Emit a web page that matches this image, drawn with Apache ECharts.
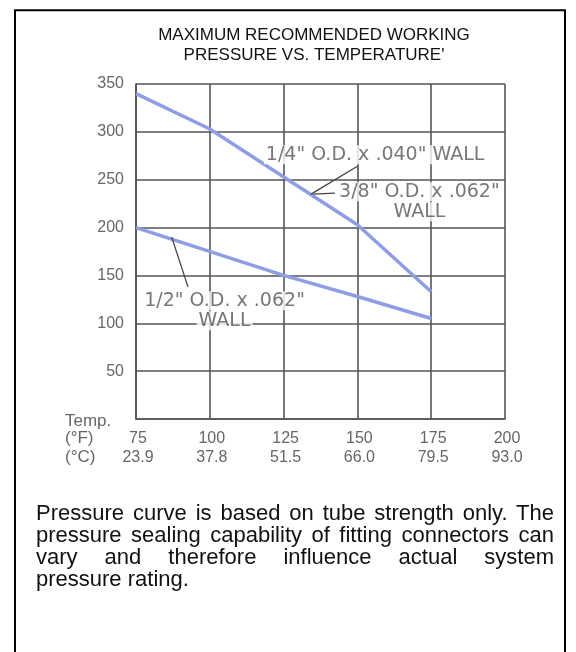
<!DOCTYPE html>
<html>
<head>
<meta charset="utf-8">
<script src="https://cdn.jsdelivr.net/npm/echarts@6/dist/echarts.min.js"></script>
<style>
  html, body { margin: 0; padding: 0; background: #fff; }
  #chart { position: absolute; left: 0; top: 0; width: 576px; height: 652px; }
  .note {
    position: absolute; left: 36px; top: 502px; width: 518px;
    font-family: 'Liberation Sans', Arial, sans-serif; font-size: 22px;
    line-height: 22px; color: #111;
  }
  .note div { white-space: nowrap; }
  .note .j { text-align: justify; text-align-last: justify; }
</style>
</head>
<body>
<div id="chart"></div>
<div class="note">
  <div class="j">Pressure curve is based on tube strength only. The</div>
  <div class="j">pressure sealing capability of fitting connectors can</div>
  <div class="j">vary and therefore influence actual system</div>
  <div>pressure rating.</div>
</div>
<script>
// 温度刻度 (°F) 和对应的 °C 标签
var tempF = [75, 100, 125, 150, 175, 200]
var tempC = ['23.9', '37.8', '51.5', '66.0', '79.5', '93.0']

// 1/4" 和 3/8" 管共用上面这条线
var smallTube = [[75, 340], [100, 303], [150, 203], [175, 133]]
// 1/2" 管
var largeTube = [[75, 200], [125, 150], [150, 128], [175, 105]]

// 标注文字 (°F, psi, 文字)
var notes = [
  [156, 276, '1/4" O.D. x .040" WALL'],
  [171, 227, '3/8" O.D. x .062"\nWALL'],
  [105, 113, '1/2" O.D. x .062"\nWALL']
]
// 引线
var leaders = [
  [[134.3, 235], [150, 264]],
  [[135, 235], [142.4, 236]],
  [[87.1, 190], [92.6, 138]]
]

var font = "'Liberation Sans', Arial, sans-serif"
var noteFont = "'DejaVu Sans', sans-serif"
var gridColor = '#555'
var curveColor = '#8e9de4'

var myChart = echarts.init(document.getElementById('chart'))

var option = {
  animation: false,
  title: {
    text: "MAXIMUM RECOMMENDED WORKING\nPRESSURE VS. TEMPERATURE'",
    left: 309,
    top: 20,
    textAlign: 'center',
    textStyle: {
      fontFamily: font,
      fontSize: 17,
      fontWeight: 'normal',
      color: '#111',
      lineHeight: 20.5
    }
  },
  grid: {
    left: 136,
    top: 84,
    right: 71,
    bottom: 233
  },
  xAxis: {
    type: 'value',
    min: 75,
    max: 200,
    interval: 25,
    axisLine: { show: true, onZero: false, lineStyle: { color: gridColor, width: 1.6 } },
    axisTick: { show: false },
    splitLine: { show: true, lineStyle: { color: gridColor, width: 1.6 } },
    axisLabel: {
      margin: 10,
      formatter: function (v) {
        var i = tempF.indexOf(v)
        return '{f|' + v + '}\n{c|' + tempC[i] + '}'
      },
      rich: {
        f: { fontFamily: font, fontSize: 16, color: '#666', lineHeight: 19, padding: [0, 0, 0, 4] },
        c: { fontFamily: font, fontSize: 16, color: '#666', lineHeight: 19, padding: [0, 0, 0, 4] }
      }
    }
  },
  yAxis: {
    type: 'value',
    min: 0,
    max: 350,
    interval: 50,
    axisLine: { show: true, onZero: false, lineStyle: { color: gridColor, width: 1.6 } },
    axisTick: { show: false },
    splitLine: { show: true, lineStyle: { color: gridColor, width: 1.6 } },
    axisLabel: {
      margin: 12,
      fontFamily: font,
      fontSize: 16,
      color: '#666',
      showMinLabel: false
    }
  },
  graphic: [
    // 外框
    {
      type: 'rect',
      shape: { x: 15, y: 10.3, width: 550, height: 700 },
      style: { fill: 'none', stroke: '#000', lineWidth: 2 },
      z: 100
    },
    { type: 'text', left: 65, top: 413, style: { text: 'Temp.', font: '17px ' + font, fill: '#666' } },
    { type: 'text', left: 65, top: 430, style: { text: '(°F)', font: '17px ' + font, fill: '#666' } },
    { type: 'text', left: 65, top: 449, style: { text: '(°C)', font: '17px ' + font, fill: '#666' } }
  ],
  series: [
    {
      name: 'small',
      type: 'line',
      data: smallTube,
      symbol: 'none',
      lineStyle: { color: curveColor, width: 3.5 },
      z: 3
    },
    {
      name: 'large',
      type: 'line',
      data: largeTube,
      symbol: 'none',
      lineStyle: { color: curveColor, width: 3.5 },
      z: 3
    },
    {
      name: 'notes',
      type: 'scatter',
      data: notes,
      symbolSize: 0,
      silent: true,
      z: 4,
      label: {
        show: true,
        position: 'inside',
        formatter: function (p) {
          return p.value[2].split('\n').map(function (s) { return '{a|' + s + '}' }).join('\n')
        },
        rich: {
          a: {
            fontFamily: noteFont,
            fontSize: 19,
            color: '#555',
            lineHeight: 20,
            backgroundColor: '#fff',
            padding: [0, 2]
          }
        }
      },
      markLine: {
        silent: true,
        symbol: 'none',
        label: { show: false },
        lineStyle: { color: '#444', width: 1.3, type: 'solid' },
        data: leaders.map(function (l) {
          return [{ coord: l[0] }, { coord: l[1] }]
        })
      }
    }
  ]
}

myChart.setOption(option)
window.addEventListener('resize', () => {
  myChart.resize()
})
</script>
</body>
</html>
